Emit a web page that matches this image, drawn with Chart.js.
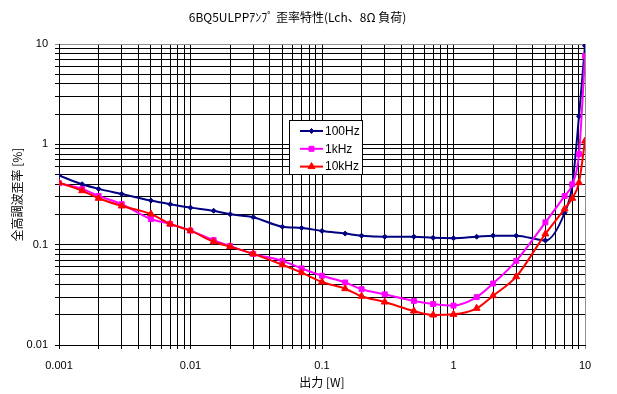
<!DOCTYPE html>
<html>
<head>
<meta charset="utf-8">
<script src="https://cdn.jsdelivr.net/npm/chart.js@4.4.1/dist/chart.umd.min.js"></script>
<style>
  html, body { margin: 0; padding: 0; background: #fff; }
</style>
</head>
<body>
<canvas id="thd" width="617" height="394"></canvas>
<script>
// 出力 [W]
const powerW = [0.001, 0.0015, 0.002, 0.003, 0.005, 0.007, 0.01, 0.015, 0.02, 0.03, 0.05, 0.07,
                0.1, 0.15, 0.2, 0.3, 0.5, 0.7, 1, 1.5, 2, 3, 5, 7, 8, 9, 10];
// 全高調波歪率 [%]
const thd100Hz = [0.49, 0.40, 0.36, 0.32, 0.275, 0.253, 0.234, 0.218, 0.201, 0.188, 0.151, 0.147,
                  0.137, 0.129, 0.123, 0.12, 0.12, 0.117, 0.116, 0.12, 0.123, 0.123, 0.11, 0.208, 0.39, 1.9, 9.6];
const thd1kHz  = [0.41, 0.36, 0.306, 0.253, 0.18, 0.161, 0.138, 0.111, 0.097, 0.081, 0.069, 0.058,
                  0.049, 0.042, 0.036, 0.032, 0.0275, 0.0256, 0.0247, 0.030, 0.041, 0.069, 0.167, 0.306, 0.40, 0.80, 7.6];
const thd10kHz = [0.415, 0.345, 0.29, 0.243, 0.202, 0.161, 0.138, 0.107, 0.0955, 0.081, 0.063, 0.0526,
                  0.0425, 0.0364, 0.0306, 0.0268, 0.0218, 0.0199, 0.0202, 0.0232, 0.031, 0.048, 0.128, 0.227, 0.29, 0.415, 1.08];

const seriesNames = ['100Hz', '1kHz', '10kHz'];
const xTickLabels = ['0.001', '0.01', '0.1', '1', '10'];
const yTickLabels = ['0.01', '0.1', '1', '10'];

// 1,2,...,9 × 10^n のグリッド位置
function logGrid(minExp, maxExp) {
  const out = [];
  for (let e = minExp; e < maxExp; e++) {
    for (let s = 1; s <= 9; s++) out.push(+(s * Math.pow(10, e)).toPrecision(3));
  }
  out.push(Math.pow(10, maxExp));
  return out;
}

function decadeLabel(labels, v) {
  const hit = labels.find(l => Math.abs(parseFloat(l) - v) < v * 1e-6);
  return hit || '';
}

const toXY = ys => powerW.map((x, i) => ({ x: x, y: ys[i] }));

const gridColor = (max) => (c) => (c.tick && Math.abs(c.tick.value - max) < 1e-9) ? '#909090' : '#000000';

// 凡例（プロット内のボックス）
const boxLegend = {
  id: 'boxLegend',
  afterDraw(chart) {
    const ctx = chart.ctx;
    const x0 = 289.5, y0 = 120.5, w = 73, h = 54;
    ctx.save();
    ctx.fillStyle = '#fff';
    ctx.fillRect(x0, y0, w, h);
    ctx.strokeStyle = '#000';
    ctx.lineWidth = 1;
    ctx.strokeRect(x0, y0, w, h);
    chart.data.datasets.forEach((ds, i) => {
      const y = 131 + i * 17.8;
      ctx.strokeStyle = ds.borderColor;
      ctx.lineWidth = 2;
      ctx.beginPath();
      ctx.moveTo(300, y);
      ctx.lineTo(323, y);
      ctx.stroke();
      ctx.fillStyle = ds.backgroundColor;
      ctx.strokeStyle = ds.borderColor;
      ctx.lineWidth = 1;
      Chart.helpers.drawPoint(ctx, {
        pointStyle: ds.pointStyle, radius: ds.pointRadius, rotation: 0, borderWidth: 1
      }, 311.5, y);
      ctx.fillStyle = '#000';
      ctx.font = '12px "Liberation Sans", Arial, sans-serif';
      ctx.textBaseline = 'middle';
      ctx.fillText(ds.label, 325, y + 0.5);
    });
    ctx.restore();
  }
};

Chart.defaults.font.family = '"Liberation Sans", Arial, sans-serif';
Chart.defaults.color = '#000';

new Chart(document.getElementById('thd').getContext('2d'), {
  type: 'line',
  data: {
    datasets: [
      { label: seriesNames[0], data: toXY(thd100Hz), borderColor: '#000080', backgroundColor: '#000080',
        pointStyle: 'rectRot', pointRadius: 2.5, order: 3 },
      { label: seriesNames[1], data: toXY(thd1kHz), borderColor: '#ff00ff', backgroundColor: '#ff00ff',
        pointStyle: 'rect', pointRadius: 3.5, order: 2 },
      { label: seriesNames[2], data: toXY(thd10kHz), borderColor: '#ff0000', backgroundColor: '#ff0000',
        pointStyle: 'triangle', pointRadius: 4, order: 1 }
    ]
  },
  options: {
    responsive: false,
    animation: false,
    devicePixelRatio: 1,
    layout: { padding: { left: 10, right: 32, top: 0, bottom: 4 } },
    elements: {
      line: { borderWidth: 2, cubicInterpolationMode: 'monotone' },
      point: { borderWidth: 1, hoverRadius: 4 }
    },
    plugins: {
      legend: { display: false },
      tooltip: { enabled: false },
      title: {
        display: true,
        text: '6BQ5ULPPｱﾝﾌﾟ 歪率特性(Lch、8Ω 負荷)',
        font: { family: '"Noto Sans CJK JP", sans-serif', size: 12, weight: 'normal' },
        padding: { top: 10, bottom: 19.6 }
      }
    },
    scales: {
      x: {
        type: 'logarithmic',
        min: 0.001, max: 10,
        afterBuildTicks: s => { s.ticks = logGrid(-3, 1).map(v => ({ value: v })); },
        afterFit: s => { s.height = 45; },
        ticks: {
          autoSkip: false, maxRotation: 0, padding: 10,
          font: { size: 11 },
          callback: v => decadeLabel(xTickLabels, v)
        },
        grid: { color: gridColor(10), lineWidth: 1, tickLength: 4 },
        border: { color: '#000', width: 1 },
        title: {
          display: true, text: '出力 [W]',
          font: { family: '"Noto Sans CJK JP", sans-serif', size: 12 },
          padding: { top: 0, bottom: 0 }
        }
      },
      y: {
        type: 'logarithmic',
        min: 0.01, max: 10,
        afterBuildTicks: s => { s.ticks = logGrid(-2, 1).map(v => ({ value: v })); },
        afterFit: s => { s.width = 49; },
        ticks: {
          autoSkip: false, padding: 7,
          font: { size: 11 },
          callback: v => decadeLabel(yTickLabels, v)
        },
        grid: { color: gridColor(10), lineWidth: 1, tickLength: 4 },
        border: { color: '#000', width: 1 },
        title: {
          display: true, text: '全高調波歪率 [%]',
          font: { family: '"Noto Sans CJK JP", sans-serif', size: 12 },
          padding: { top: 0, bottom: 0 }
        }
      }
    }
  },
  plugins: [boxLegend]
});
</script>
</body>
</html>
